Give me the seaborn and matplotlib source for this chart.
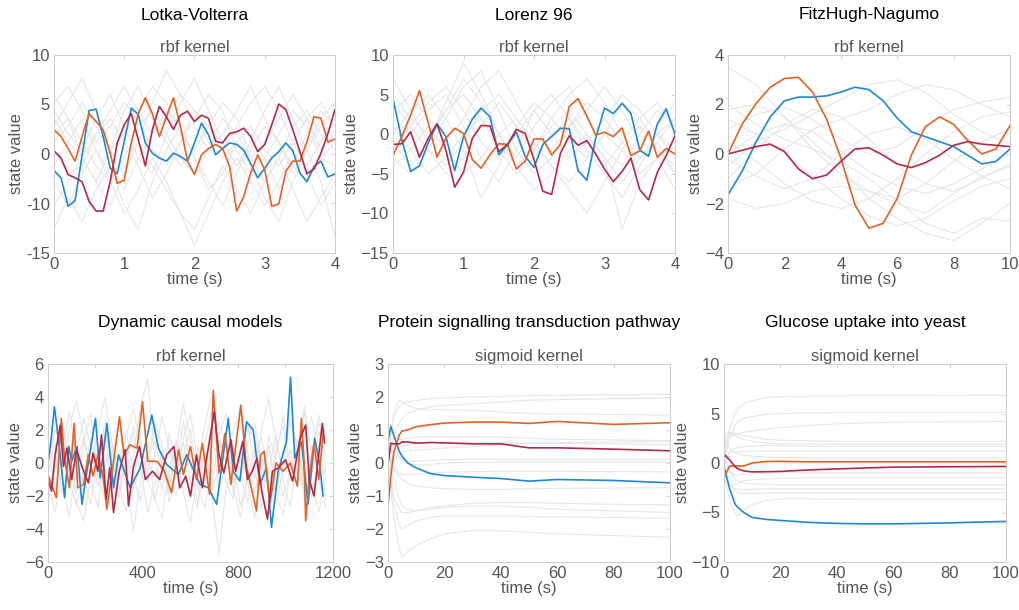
import numpy as np
import matplotlib
matplotlib.use("Agg")
import matplotlib.pyplot as plt
import seaborn as sns

sns.set_style("white")
plt.rcParams['font.family'] = ['Liberation Sans', 'DejaVu Sans']

# ---------------- data ----------------
titles = ["Lotka-Volterra", "Lorenz 96", "FitzHugh-Nagumo",
          "Dynamic causal models", "Protein signalling transduction pathway",
          "Glucose uptake into yeast"]
kernels = ["rbf kernel", "rbf kernel", "rbf kernel",
           "rbf kernel", "sigmoid kernel", "sigmoid kernel"]

# Panel 1: Lotka-Volterra (t step 0.1)
t_lv = np.round(np.arange(0, 4.001, 0.1), 2)
lv_blue = [-4.6, -5.5, -9.1, -8.4, -2.7, 3.0, 3.15, -0.3, -4.3, -5.0, -0.9, 3.3, 2.5, -1.1,
           -2.4, -3.0, -3.4, -2.4, -2.8, -3.4, -1.1, 1.4, -0.1, -2.6, -1.8, -1.1, -1.3, -2.0,
           -3.7, -5.5, -4.3, -3.0, -2.2, -1.1, -2.1, -4.9, -6.0, -4.1, -3.4, -5.4, -5.0]
lv_orange = [0.55, -0.3, -1.8, -3.4, -0.3, 2.6, 1.6, 0.55, -2.4, -6.2, -5.8, -1.1, 2.6, 4.6,
             2.6, -0.3, 2.2, 4.6, 1.0, -3.4, -5.1, -2.6, -1.8, -1.3, -1.8, -4.1, -9.7, -7.9,
             -4.9, -2.6, -4.5, -9.1, -8.8, -4.7, -3.4, -3.4, -1.0, 2.2, 2.0, -1.0, -0.6]
lv_red = [-2.1, -3.0, -5.1, -5.5, -6.0, -8.5, -9.7, -9.7, -6.0, -1.1, 1.2, 2.6, -0.7, -4.0,
          0.55, 3.5, 2.2, 0.6, 2.4, 2.9, 1.6, 2.4, 2.0, -0.9, -1.1, 0.1, 0.3, 0.75, -0.3,
          -2.2, -1.3, 1.2, 3.8, 3.1, 0.55, -2.2, -5.0, -4.4, -2.4, 0.1, 3.1]
t_lv_gray = np.round(np.arange(0, 4.001, 0.2), 2)
lv_gray = [
    [5, 2, -3, -6, -2, 3, 6, 2, -1, -4, -2, 1, 4, 2, -3, -6, -3, 1, 3, 0, -2],
    [-12, -8, -11, -7, -4, -9, -12, -6, -2, 1, -3, -7, -5, -1, -4, -8, -11, -6, -2, -6, -13],
    [1, 4, 7, 3, -2, -5, -1, 4, 8, 5, 1, -2, 0, 3, 6, 2, -1, -5, -2, 2, 4],
    [-2, -5, -4, 0, 2, -1, -4, -8, -5, -1, 2, 5, 3, -2, -5, -3, 0, 3, 1, -3, -1],
    [3, 0, -2, 2, 5, 1, -3, -5, 0, 4, 7, 3, -1, -4, -1, 3, 6, 2, -2, 1, 3],
    [-6, -9, -5, -2, -6, -10, -7, -3, -6, -10, -12, -8, -4, -7, -10, -6, -3, -7, -11, -8, -5],
    [0, 2, -1, -4, -6, -3, 1, 3, 0, -3, -5, -2, 2, 0, -3, -1, 2, 5, 2, -2, 0],
    [4, 6, 3, -1, 1, 4, 2, -2, -4, -1, 3, 1, -2, 1, 4, 6, 3, -1, -4, -1, 2],
    [-4, -1, 2, -2, -5, -7, -3, 0, 3, 1, -3, -6, -9, -5, -1, -3, -7, -4, 0, 3, 1],
    [-9, -6, -3, -6, -9, -5, -1, -4, -7, -10, -14, -10, -6, -3, -6, -9, -6, -2, -5, -9, -6],
    [2, -1, -3, 0, 3, 6, 3, 0, 2, 5, 3, -1, -3, -1, 1, -2, -4, -1, 2, 4, 1],
    [-1, 1, 4, 1, -2, 0, 3, 6, 4, 0, -2, 1, -1, -4, -2, 1, -1, -4, -6, -3, -4],
]
lv_yticks = [10, 3.75, -2.5, -8.75, -15]
lv_yticklabels = ["10", "5", "0", "-10", "-15"]

# Panel 2: Lorenz 96 (t step 0.125)
t_l96 = np.arange(0, 4.001, 0.125)
l96_blue = [4.5, -0.7, -4.7, -4.0, -1.1, 1.3, -0.3, -4.6, -0.3, 1.9, 3.3, 2.2, -2.6, -1.3,
            0.25, -2.8, -4.2, -1.3, -0.3, 0.75, 0.7, -4.6, -5.8, -0.5, 3.3, 2.6, 3.9, 2.6,
            -2.0, -2.8, 1.3, 3.2, 0.0]
l96_orange = [-2.7, -0.3, 2.4, 5.5, 1.4, -2.9, -0.5, 0.75, 0.1, -3.2, -4.3, -2.6, -1.2,
              -1.3, -4.4, -3.4, -0.6, -0.6, -2.6, -1.3, 3.5, 4.5, 2.3, -0.1, 0.25, -0.3, 0.8,
              -2.7, -2.1, 0.4, -2.9, -1.8, -2.5]
l96_red = [-1.3, -1.2, 0.3, -2.9, -0.5, 1.3, -2.0, -6.7, -4.8, -0.5, 1.1, 1.05, -2.2, -1.3,
           0.6, 0.1, -3.2, -7.2, -7.6, -2.4, -0.2, -1.4, -0.8, -2.5, -4.4, -6.0, -4.7, -3.0,
           -7.0, -8.3, -4.8, -2.7, -0.2]
t_l96_gray = np.arange(0, 4.001, 0.25)
l96_gray = [
    [7, 3, -1, 4, 9, 5, 0, -3, 1, 4, 6, 2, -2, -4, 0, 3, 1],
    [-3, -5, -2, 2, 6, 8, 3, -2, -5, -3, 1, 4, 2, -1, -3, 0, 2],
    [2, 0, 3, 5, 1, -3, -6, -2, 3, 5, 2, -2, -5, -8, -4, 0, -3],
    [0, 3, 5, 2, -2, -8, -4, 1, 4, 2, -1, -3, 0, 4, 2, -2, -4],
    [-1, -4, -1, 3, 7, 4, 0, -4, -2, 2, 5, 7, 4, 0, -3, -1, 2],
    [4, 1, -2, -4, -1, 3, 5, 2, -1, -4, -7, -10, -6, -2, 1, -2, -5],
    [-2, 1, 4, 6, 3, -1, -3, 0, 3, 0, -3, -1, 2, 5, 3, 0, -2],
    [1, -2, -5, -3, 0, 2, -1, -4, -7, -5, -2, 0, -3, -12, -6, -3, -7],
    [3, 5, 2, -1, 2, 6, 8, 4, 0, -2, 1, 3, 6, 3, -1, 1, 4],
    [-4, -2, 1, -2, -5, -3, 0, 2, -1, -4, -6, -3, 0, -2, -5, -3, -1],
    [5, 2, 0, 3, 5, 2, -2, -5, -3, 0, 2, -1, -4, -1, 2, 4, 1],
    [-1, 1, -2, -5, -3, 1, 4, 1, -2, 1, 3, 0, -3, -6, -3, -1, -5],
]

# Panel 3: FitzHugh-Nagumo (t step 0.5)
t_fhn = np.arange(0, 10.001, 0.5)
fhn_blue = [-1.65, -0.7, 0.5, 1.5, 2.15, 2.3, 2.3, 2.35, 2.5, 2.7, 2.6, 2.15, 1.45, 0.9,
            0.7, 0.5, 0.3, -0.05, -0.4, -0.3, 0.2]
fhn_orange = [0.0, 1.2, 2.05, 2.7, 3.05, 3.1, 2.5, 1.4, -0.15, -2.05, -3.0, -2.8, -1.8,
              -0.05, 1.1, 1.5, 1.2, 0.55, 0.0, 0.2, 1.15]
fhn_red = [0.0, 0.15, 0.3, 0.4, 0.1, -0.6, -1.0, -0.85, -0.3, 0.2, 0.25, -0.05, -0.4,
           -0.55, -0.35, -0.05, 0.35, 0.5, 0.4, 0.35, 0.3]
t_fhn_gray = np.arange(0, 10.001, 1.0)
fhn_gray = [
    [3.5, 2.8, 1.5, 0.2, -0.8, -1.5, -1.8, -1.2, -0.3, 0.5, 1.0],
    [1.8, 2.0, 1.5, 0.5, -0.6, -1.8, -2.6, -3.2, -3.5, -2.8, -2.0],
    [-1.0, 0.2, 1.2, 1.8, 1.5, 0.6, -0.5, -1.2, -1.5, -1.0, -0.4],
    [0.5, -0.3, -1.2, -1.9, -2.2, -1.8, -1.0, 0.0, 0.9, 1.5, 1.7],
    [-0.5, 0.5, 1.0, 1.6, 2.2, 2.8, 3.0, 2.5, 1.6, 0.9, 0.4],
    [2.0, 1.2, 0.6, 0.2, -0.3, -1.0, -1.9, -2.8, -3.2, -2.6, -2.7],
    [-1.8, -2.2, -2.0, -1.5, -1.3, -1.5, -2.0, -2.4, -1.6, -0.9, -0.5],
    [1.0, 1.6, 1.9, 1.4, 0.6, 0.0, 0.3, 1.1, 1.8, 2.1, 2.3],
    [-0.2, -0.9, -1.4, -1.0, 0.0, 0.8, 1.1, 0.6, -0.2, -0.9, -1.4],
    [0.0, 0.8, 1.2, 0.9, 0.1, -0.7, -1.3, -1.6, -1.2, -0.6, 0.0],
    [1.4, 0.8, 0.0, -0.9, -1.8, -2.5, -2.9, -2.6, -1.9, -1.3, -1.0],
    [-1.3, -0.8, 0.2, 1.0, 1.4, 1.8, 2.4, 2.8, 2.6, 2.0, 1.5],
]

# Panel 4: Dynamic causal models
dcm_blue_t = [0, 10, 27, 45, 70, 87, 100, 122, 143, 164, 200, 220, 248, 276, 297, 346, 388,
              437, 465, 500, 549, 584, 640, 675, 710, 759, 780, 808, 836, 864, 892, 920, 941,
              969, 1004, 1021, 1039, 1067, 1095, 1123, 1144, 1158]
dcm_blue = [0.0, 1.0, 3.4, 1.3, -2.1, 1.0, 0.1, 1.0, -2.5, -0.5, 2.7, -0.9, 2.4, -1.5, 0.5,
            -1.5, -0.3, 2.9, 0.9, -0.1, -0.7, 0.5, -1.3, -1.5, -2.5, 2.7, -0.5, -1.1, 2.5,
            2.0, -1.3, -0.3, -3.9, -0.5, 1.3, 5.2, 0.3, 1.3, -2.5, 1.5, -0.1, -2.0]
dcm_orange_t = [0, 15, 35, 56, 70, 90, 110, 125, 150, 170, 190, 210, 230, 248, 275, 301,
                320, 345, 375, 398, 420, 460, 490, 520, 550, 570, 600, 625, 650, 680, 696,
                720, 745, 770, 812, 835, 878, 895, 910, 935, 960, 990, 1020, 1050, 1067,
                1078, 1085, 1100, 1120, 1140, 1160]
dcm_orange = [-0.7, -1.3, -2.1, 2.7, 0.2, -1.5, 2.4, -1.5, -1.3, 0.5, -0.8, 0.5, -0.6, -2.8,
              0.0, 2.8, 0.5, 1.1, 0.9, 3.7, 0.1, 0.1, -0.5, -1.8, 0.8, -0.7, 1.0, -1.0, 1.2,
              -1.9, 4.4, -0.6, 1.8, -1.3, 3.5, -0.2, -2.9, 0.5, 0.7, -2.4, 0.0, -0.5, 0.0,
              -1.4, 2.7, 0.2, -3.5, -0.8, 1.2, -1.0, 2.0]
dcm_red_t = [0, 15, 30, 52, 65, 80, 100, 120, 145, 170, 190, 210, 225, 245, 260, 276, 300,
             325, 339, 360, 385, 410, 440, 470, 500, 530, 555, 580, 600, 625, 650, 670, 700,
             720, 740, 770, 790, 820, 840, 860, 880, 900, 924, 945, 970, 1000, 1030, 1060,
             1085, 1100, 1120, 1140, 1155, 1165]
dcm_red = [-1.0, -1.7, 0.5, 2.3, -0.2, 0.9, -1.0, 0.8, -0.3, -1.2, 0.6, -0.5, 1.7, -2.2,
           -0.3, -3.0, -0.5, 0.8, -2.6, -0.2, 1.0, -1.0, -0.5, -1.0, 0.5, 1.0, -1.5, -0.8,
           -2.0, 0.5, -1.5, 0.5, 3.1, 0.5, -0.6, 1.4, -0.5, 1.3, -1.0, -0.5, 0.3, -1.7, -3.4,
           -0.5, -0.3, 0.2, -1.1, 1.4, 2.3, -1.0, -2.0, 0.5, 2.4, 1.2]
dcm_gray_step = 30
dcm_gray = [
    [1.5, -0.5, 2.5, 0.2, -1.8, 1.2, 3.0, -0.8, -2.2, 0.6, 2.1, -1.0, 0.4, 3.5, 5.1, 0.2,
     -1.6, 1.8, -0.4, 2.6, 0.0, -2.5, 1.1, 3.2, -0.6, 1.4, -1.9, 0.8, 2.4, -0.3, -2.8, 1.6,
     0.3, 2.9, -1.1, 0.7, 3.1, -0.9, 1.9, 0.5],
    [-1.2, -3.0, -0.5, 1.0, -2.4, -3.5, -0.8, 0.9, -1.7, -2.9, 0.3, -1.4, -4.1, -1.0, 0.6,
     -2.2, -3.3, -0.4, 1.2, -1.8, -3.6, -0.7, 0.8, -2.0, -5.5, -1.5, 0.2, -2.6, -1.1, -3.4,
     -0.2, 1.0, -1.9, -3.1, -0.6, 0.9, -2.3, -1.3, -3.0, -0.8],
    [2.8, 1.0, -0.6, 2.2, 3.8, 1.5, -0.3, 2.0, 4.0, 1.2, -0.8, 1.7, 3.3, 0.9, -0.5, 2.5,
     1.1, -1.2, 0.8, 3.6, 1.4, -0.2, 2.3, 4.2, 1.6, 0.0, 1.9, 3.5, 0.7, -0.9, 2.1, 3.9, 1.3,
     -0.4, 2.7, 1.0, 3.4, 0.6, 2.4, 1.8],
    [-2.5, 0.4, -1.5, -3.2, -0.1, 1.6, -1.0, -2.7, 0.5, -0.9, -2.1, 0.8, -1.6, -0.2, -3.0,
     -1.3, 0.7, -2.4, -0.6, 1.3, -1.2, -2.8, 0.2, -1.7, -0.3, 1.5, -1.4, -3.3, -0.8, 0.9,
     -2.0, -0.5, 1.7, -1.1, -2.6, 0.1, -1.8, -0.7, 1.0, -2.2],
    [0.3, 2.0, 1.1, -1.0, 0.5, 2.7, 1.0, -0.7, 1.8, 0.2, -1.9, 0.6, 2.2, 1.3, -1.1, 0.4,
     2.8, 0.9, -0.6, 1.5, 3.0, 0.1, -1.5, 1.2, 2.5, 0.8, -1.2, 0.3, 2.0, 1.6, -0.4, 1.1,
     -1.7, 0.5, 2.3, 1.2, -1.0, 0.4, 2.9, -0.5],
    [-0.6, 1.2, -1.9, -0.2, 1.4, -0.8, -2.5, 0.3, 1.6, -1.2, 0.1, 1.9, -0.9, -2.3, 0.6, 1.3,
     -0.5, -1.9, 0.9, -0.3, -2.1, 1.0, -0.7, 1.8, -1.6, -0.1, 1.1, -0.6, -2.4, 0.8, 1.5,
     -1.3, 0.4, -2.0, -0.4, 1.3, -1.5, 0.7, -0.9, -2.7],
    [1.0, -1.5, 0.7, 3.1, 0.0, -1.2, 1.5, -0.4, 2.6, 0.9, -1.6, 0.2, 1.9, -0.7, 0.8, 2.3,
     -0.2, -1.7, 1.4, 0.3, 2.1, -0.9, 0.6, -1.4, 1.7, 3.0, 0.4, -1.0, 1.2, 2.5, -0.1, -1.8,
     0.9, 2.2, 0.0, -1.3, 1.6, 2.8, 0.2, -0.6],
    [-1.8, -0.4, 0.9, -1.1, -2.6, -0.5, 0.7, -1.4, -0.2, 1.1, -1.6, -2.9, -0.6, 0.5, -1.0,
     -2.3, 0.2, -0.8, -2.0, -0.1, 0.9, -1.5, -2.7, -0.3, 0.6, -1.2, -2.2, 0.4, -0.9, -1.9,
     0.3, -1.1, -2.5, -0.4, 0.8, -1.4, -0.2, -2.1, 0.5, -1.0],
]

# Panels 5 & 6 share one time grid
t_sig = [0, 1, 2, 4, 5, 7, 10, 15, 20, 30, 40, 50, 60, 80, 100]
pstp_blue = [0.66, 1.11, 0.85, 0.35, 0.2, 0.0, -0.15, -0.32, -0.38, -0.43, -0.47, -0.55,
             -0.5, -0.53, -0.6]
pstp_orange = [-1.3, -0.4, 0.3, 0.85, 0.97, 1.0, 1.1, 1.16, 1.21, 1.24, 1.24, 1.2, 1.26,
               1.17, 1.22]
pstp_red = [-0.05, 0.6, 0.58, 0.58, 0.64, 0.64, 0.6, 0.62, 0.61, 0.58, 0.58, 0.46, 0.46,
            0.42, 0.37]
pstp_gray = [
    [0.0, 0.8, 1.5, 1.9, 1.85, 1.75, 1.65, 1.62, 1.62, 1.6, 1.55, 1.5, 1.48, 1.47, 1.45],
    [0.2, 0.9, 1.4, 1.7, 1.8, 1.85, 1.9, 1.95, 1.97, 2.0, 2.02, 2.04, 2.05, 2.07, 2.08],
    [-0.3, 0.3, 0.8, 1.2, 1.35, 1.5, 1.6, 1.7, 1.75, 1.8, 1.85, 1.9, 1.92, 1.95, 1.97],
    [0.0, -0.8, -1.6, -2.6, -2.85, -2.7, -2.5, -2.3, -2.15, -2.05, -2.05, -2.1, -2.15, -2.2, -2.25],
    [0.1, -0.6, -1.2, -1.9, -2.0, -1.9, -1.75, -1.65, -1.6, -1.6, -1.6, -1.62, -1.64, -1.65, -1.67],
    [0.4, 0.1, -0.4, -1.1, -1.3, -1.4, -1.45, -1.4, -1.35, -1.3, -1.3, -1.35, -1.4, -1.45, -1.5],
    [-0.2, -0.6, -1.0, -1.4, -1.5, -1.5, -1.45, -1.35, -1.3, -1.22, -1.2, -1.2, -1.22, -1.25, -1.27],
    [0.3, 0.5, 0.6, 0.7, 0.72, 0.75, 0.78, 0.8, 0.8, 0.8, 0.78, 0.75, 0.72, 0.7, 0.68],
    [-0.4, -0.1, 0.2, 0.45, 0.5, 0.55, 0.6, 0.62, 0.63, 0.63, 0.62, 0.6, 0.6, 0.58, 0.56],
    [0.2, 0.0, -0.2, -0.4, -0.5, -0.6, -0.7, -0.75, -0.78, -0.8, -0.8, -0.78, -0.77, -0.76, -0.75],
    [-0.1, 0.1, 0.2, 0.15, 0.1, 0.05, 0.05, 0.08, 0.1, 0.12, 0.12, 0.12, 0.12, 0.12, 0.12],
    [0.5, 0.2, -0.1, -0.3, -0.35, -0.35, -0.33, -0.3, -0.28, -0.26, -0.25, -0.25, -0.25, -0.26, -0.27],
    [-0.5, -0.2, 0.1, 0.3, 0.35, 0.38, 0.4, 0.42, 0.45, 0.5, 0.55, 0.6, 0.62, 0.64, 0.65],
    [0.0, 0.3, 0.4, 0.2, 0.1, 0.0, -0.05, -0.05, 0.0, 0.02, 0.03, 0.03, 0.03, 0.03, 0.03],
]
yeast_blue = [-0.4, -1.5, -2.6, -4.2, -4.5, -5.0, -5.5, -5.7, -5.8, -6.0, -6.1, -6.15, -6.15,
              -6.05, -5.9]
yeast_orange = [-1.5, -0.9, -0.3, -0.3, -0.3, -0.3, 0.0, 0.15, 0.17, 0.12, 0.12, 0.12, 0.12,
                0.12, 0.12]
yeast_red = [0.9, 0.6, 0.3, -0.4, -0.6, -0.8, -0.9, -0.88, -0.85, -0.7, -0.6, -0.5, -0.42,
             -0.38, -0.35]
yeast_gray = [
    [0.5, 2.0, 3.5, 5.0, 5.5, 6.0, 6.3, 6.6, 6.7, 6.75, 6.78, 6.8, 6.8, 6.82, 6.83],
    [0.0, 1.2, 2.5, 3.8, 4.2, 4.5, 4.7, 4.9, 5.0, 5.05, 5.1, 5.1, 5.1, 5.1, 5.1],
    [1.0, 2.0, 2.6, 2.9, 3.0, 3.1, 3.2, 3.4, 3.6, 3.8, 3.95, 4.05, 4.1, 4.15, 4.2],
    [2.0, 3.0, 3.1, 3.0, 2.9, 2.8, 2.6, 2.4, 2.3, 2.25, 2.2, 2.2, 2.2, 2.2, 2.2],
    [1.5, 2.5, 3.0, 2.8, 2.6, 2.4, 2.2, 2.0, 1.95, 1.9, 1.9, 1.9, 1.9, 1.9, 1.9],
    [-0.5, 0.5, 1.2, 1.5, 1.6, 1.65, 1.7, 1.75, 1.75, 1.7, 1.7, 1.7, 1.7, 1.7, 1.7],
    [0.3, 0.8, 1.0, 1.1, 1.15, 1.15, 1.2, 1.2, 1.2, 1.2, 1.2, 1.2, 1.2, 1.2, 1.2],
    [-1.0, -2.5, -3.8, -5.0, -5.3, -4.8, -4.2, -3.8, -3.6, -3.6, -3.65, -3.7, -3.7, -3.7, -3.7],
    [0.5, -1.0, -2.0, -2.8, -3.0, -3.1, -3.1, -3.05, -3.0, -3.0, -3.0, -3.0, -3.0, -3.0, -3.0],
    [-0.5, -1.5, -2.2, -2.6, -2.7, -2.7, -2.65, -2.6, -2.6, -2.6, -2.6, -2.6, -2.6, -2.6, -2.6],
    [1.0, 0.0, -0.8, -1.6, -1.8, -2.0, -2.1, -2.15, -2.2, -2.2, -2.2, -2.2, -2.2, -2.2, -2.2],
    [-1.5, -2.0, -2.3, -2.2, -2.0, -1.8, -1.7, -1.6, -1.55, -1.5, -1.5, -1.5, -1.5, -1.5, -1.5],
    [0.0, -0.5, -0.9, -1.2, -1.2, -1.15, -1.1, -1.05, -1.0, -1.0, -1.0, -1.0, -1.0, -1.0, -1.0],
    [2.5, 2.0, 1.5, 1.0, 0.9, 0.8, 0.7, 0.6, 0.55, 0.5, 0.5, 0.5, 0.5, 0.5, 0.5],
]

# ---------------- style ----------------
C_BLUE, C_ORANGE, C_RED = "#2089d0", "#e06327", "#b02a4a"
C_GRAY = "#e6e6e6"
TXT = "#555555"
SPINE = "#cccccc"
FS = 12

W, H = 1020, 610
fig = plt.figure(figsize=(W / 100, H / 100), dpi=100)

def px_axes(l, t, r, b):
    return fig.add_axes([l / W, 1 - b / H, (r - l) / W, (b - t) / H])

boxes = [(54, 55, 335, 253), (393, 55, 675, 253), (728, 55, 1010, 253),
         (48, 364, 333, 562), (388, 364, 670, 562), (724, 364, 1006, 562)]
axes = [px_axes(*b) for b in boxes]

def draw(ax, xs_gray, grays, colored):
    for g in grays:
        xg = xs_gray if xs_gray is not None else np.arange(len(g)) * dcm_gray_step
        sns.lineplot(x=xg, y=g, ax=ax, color=C_GRAY, lw=0.8, estimator=None, sort=False)
    for xs, ys, c in colored:
        sns.lineplot(x=xs, y=ys, ax=ax, color=c, lw=1.2, estimator=None, sort=False)

draw(axes[0], t_lv_gray, lv_gray, [(t_lv, lv_blue, C_BLUE), (t_lv, lv_orange, C_ORANGE), (t_lv, lv_red, C_RED)])
draw(axes[1], t_l96_gray, l96_gray, [(t_l96, l96_blue, C_BLUE), (t_l96, l96_orange, C_ORANGE), (t_l96, l96_red, C_RED)])
draw(axes[2], t_fhn_gray, fhn_gray, [(t_fhn, fhn_blue, C_BLUE), (t_fhn, fhn_orange, C_ORANGE), (t_fhn, fhn_red, C_RED)])
draw(axes[3], None, dcm_gray, [(dcm_blue_t, dcm_blue, C_BLUE), (dcm_orange_t, dcm_orange, C_ORANGE), (dcm_red_t, dcm_red, C_RED)])
draw(axes[4], t_sig, pstp_gray, [(t_sig, pstp_blue, C_BLUE), (t_sig, pstp_orange, C_ORANGE), (t_sig, pstp_red, C_RED)])
draw(axes[5], t_sig, yeast_gray, [(t_sig, yeast_blue, C_BLUE), (t_sig, yeast_orange, C_ORANGE), (t_sig, yeast_red, C_RED)])

limits = [((0, 4), (-15, 10)), ((0, 4), (-15, 10)), ((0, 10), (-4, 4)),
          ((0, 1200), (-6, 6)), ((0, 100), (-3, 3)), ((0, 100), (-10, 10))]
xticks = [[0, 1, 2, 3, 4], [0, 1, 2, 3, 4], [0, 2, 4, 6, 8, 10],
          [0, 200, 400, 600, 800, 1000, 1200], list(range(0, 101, 20)), list(range(0, 101, 20))]
xticklabels = [None, None, None, ["0", "", "400", "", "800", "", "1200"], None, None]
yticks = [lv_yticks, [10, 5, 0, -5, -10, -15], [4, 2, 0, -2, -4],
          [6, 4, 2, 0, -2, -4, -6], [3, 2, 1, 0, -1, -2, -3], [10, 5, 0, -5, -10]]
yticklabels = [lv_yticklabels, None, None, None, None, None]

for i, ax in enumerate(axes):
    ax.set_xlim(*limits[i][0])
    ax.set_ylim(*limits[i][1])
    ax.set_xticks(xticks[i])
    if xticklabels[i] is not None:
        ax.set_xticklabels(xticklabels[i])
    ax.set_yticks(yticks[i])
    if yticklabels[i] is not None:
        ax.set_yticklabels(yticklabels[i])
    ax.tick_params(direction="in", length=3, width=0.6, color=SPINE, labelcolor=TXT,
                   labelsize=FS, top=True, right=True, pad=3)
    for s in ax.spines.values():
        s.set_visible(True)
        s.set_color(SPINE)
        s.set_linewidth(0.7)
    ax.set_xlabel("time (s)", fontsize=FS, color=TXT, labelpad=0)
    ax.set_ylabel("state value", fontsize=FS, color=TXT, labelpad=1)
    ax.set_title(kernels[i], fontsize=FS, color=TXT, pad=2)
    b = boxes[i]
    cx = (b[0] + b[2]) / 2
    ty = 15 if i < 3 else 322
    fig.text(cx / W, 1 - ty / H, titles[i], ha="center", va="center", fontsize=12.5, color="black")

fig.savefig("out.png", dpi=100, facecolor="white")
